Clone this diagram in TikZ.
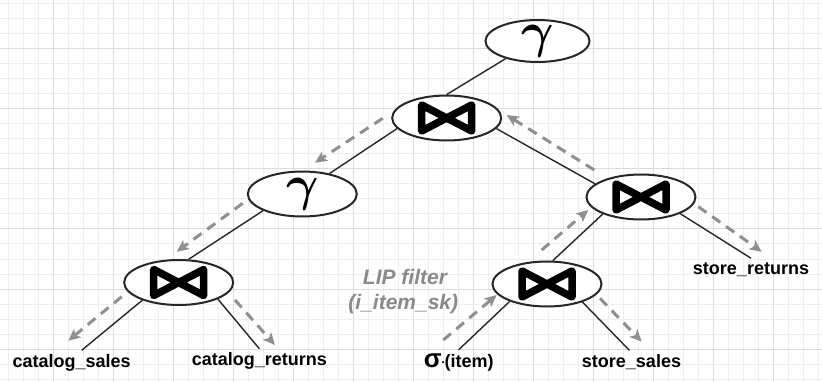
\documentclass[tikz,border=0pt]{standalone}
\usepackage{fontspec}
\usepackage{graphicx}
\setmainfont{Liberation Sans}
\usetikzlibrary{shapes.geometric,arrows.meta,calc}
\definecolor{edgec}{HTML}{262626}
\definecolor{flowc}{HTML}{8F8F8F}
\definecolor{gridminor}{HTML}{EEEEEE}
\definecolor{gridmajor}{HTML}{DCDCDC}
\definecolor{lipc}{HTML}{8A8A8A}
\newcommand{\biggamma}{\scalebox{2.4}{\boldmath$\gamma$}}
\begin{document}
\begin{tikzpicture}[x=1pt,y=-1pt,
  opnode/.style={ellipse, draw=edgec, line width=2pt, fill=white, inner sep=0pt,
    minimum width=109pt, minimum height=45pt},
  gammanode/.style={opnode, label={[font=\fontsize{20}{20}\selectfont, inner sep=0pt]center:\biggamma}},
  joinnode/.style={opnode, path picture={\draw[line width=7.5pt, line join=round, black]
      ([shift={(-25pt,-13pt)}]path picture bounding box.center) --
      ([shift={(25pt,13pt)}]path picture bounding box.center) --
      ([shift={(25pt,-13pt)}]path picture bounding box.center) --
      ([shift={(-25pt,13pt)}]path picture bounding box.center) -- cycle;}},
  tablelabel/.style={font=\bfseries\fontsize{18}{18}\selectfont, text=black,
    inner sep=0pt, outer sep=4pt, anchor=base},
  link/.style={draw=edgec, line width=1.4pt},
  flow/.style={draw=flowc, line width=3pt, dash pattern=on 10pt off 7pt,
    -{Stealth[length=12pt,width=11pt,inset=3pt]}},
  lipnote/.style={font=\bfseries\itshape\fontsize{21}{21}\selectfont, text=lipc,
    inner sep=0pt, anchor=base}
]
\useasboundingbox (0,0) rectangle (822,382);
\fill[white] (0,0) rectangle (822,382);
% grid
\foreach \i in {0,...,54} \draw[gridminor, line width=1pt] ({8.3+15*\i},0) -- ({8.3+15*\i},382);
\foreach \j in {0,...,25} \draw[gridminor, line width=1pt] (0,{4+15*\j}) -- (822,{4+15*\j});
\foreach \i in {0,...,12} \draw[gridmajor, line width=1pt] ({53.3+60*\i},0) -- ({53.3+60*\i},382);
\foreach \j in {0,...,5} \draw[gridmajor, line width=1pt] (0,{49+60*\j}) -- (822,{49+60*\j});

% operator nodes
\node[gammanode, minimum width=104pt, minimum height=42pt] (tg) at (537.5,41) {};
\node[joinnode] (tj) at (446.7,118) {};
\node[gammanode] (lg) at (302.3,194) {};
\node[joinnode] (lj) at (178.7,282.5) {};
\node[joinnode] (rj) at (641,197) {};
\node[joinnode] (bj) at (547,284) {};

% table labels
\node[tablelabel] (cs) at (71.7,367.3) {catalog\_sales};
\node[tablelabel] (cr) at (259.3,365.7) {catalog\_returns};
\node[tablelabel] (si) at (458.7,367.5) {{\fontsize{26}{26}\selectfont σ}\kern-1.5pt{\mdseries ·}\kern-1.5pt(item)};
\node[tablelabel] (ss) at (631.5,367.5) {store\_sales};
\node[tablelabel] (sr) at (751,274) {store\_returns};

% LIP filter note
\node[lipnote] (lip1) at (405,284) {LIP filter};
\node[lipnote] (lip2) at (403.3,309.3) {(i\_item\_sk)};

% solid links
\draw[link] (tg.209) -- (tj.north);
\draw[link] (tj.192.5) -- (lg.37);
\draw[link] (lg.203.4) -- (lj.67);
\draw[link] (lj.206.4) -- ([xshift=10pt]cs.north);
\draw[link] (lj.337) -- (cr.north);
\draw[link] (tj.348.7) -- (rj.164);
\draw[link] (rj.204.6) -- (bj.76);
\draw[link] (rj.337) -- (sr.north);
\draw[link] (bj.205.6) -- (si.north);
\draw[link] (bj.333) -- ([xshift=-2pt]ss.north);

% dashed flow arrows
\coordinate (f1a) at ($(tj)+(-64,0.3)$);   \coordinate (f1b) at ($(lg)+(12.7,-31.3)$);
\coordinate (f2a) at ($(lg)+(-59.6,9.3)$);  \coordinate (f2b) at ($(lj)+(-2,-30.8)$);
\coordinate (f3a) at ($(lj)+(-57,14.2)$);   \coordinate (f3b) at ($(lj)+(-110.4,58.2)$);
\coordinate (f4a) at ($(lj)+(56.3,17.5)$);  \coordinate (f4b) at ($(lj)+(96.3,62.5)$);
\coordinate (f5a) at ($(bj)+(53,14.3)$);    \coordinate (f5b) at ($(bj)+(94.7,57.7)$);
\coordinate (f6a) at ($(bj)+(-103.7,56)$);  \coordinate (f6b) at ($(bj)+(-50.3,11)$);
\coordinate (f7a) at ($(bj)+(-5.3,-34)$);   \coordinate (f7b) at ($(rj)+(-52.7,13)$);
\coordinate (f8a) at ($(rj)+(57.3,9.7)$);   \coordinate (f8b) at ($(rj)+(120.7,54.7)$);
\coordinate (f9a) at ($(rj)+(-46.7,-27)$);  \coordinate (f9b) at ($(tj)+(60,-3)$);
\foreach \k in {1,...,9} \draw[flow] (f\k a) -- (f\k b);
\end{tikzpicture}
\end{document}
